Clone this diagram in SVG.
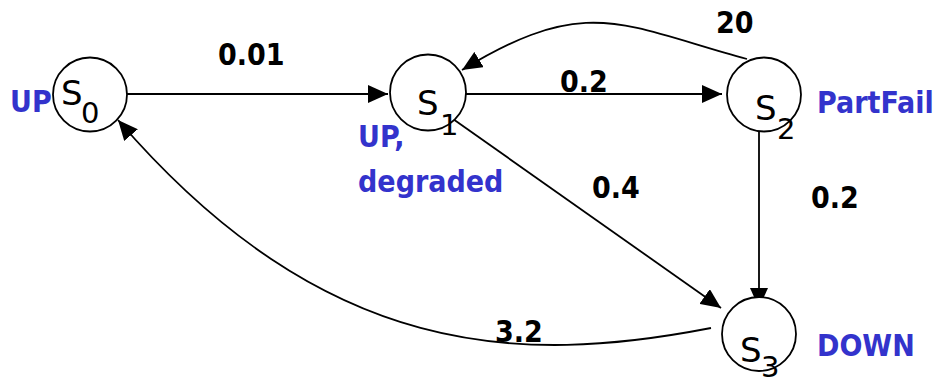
<svg xmlns="http://www.w3.org/2000/svg" width="940" height="382" viewBox="0 0 940 382">
<style>
.st{fill:#fff;stroke:#000;stroke-width:1.8}
.sn{font-family:"DejaVu Sans",Verdana,sans-serif;font-size:34px;fill:#000}
.sb{font-family:"DejaVu Sans",Verdana,sans-serif;font-size:29px;fill:#000}
.lbl{font-family:"DejaVu Sans Condensed","DejaVu Sans",sans-serif;font-size:30px;font-weight:bold;fill:#3333cc}
.rate{font-family:"DejaVu Sans Condensed","DejaVu Sans",sans-serif;font-size:30px;font-weight:bold;fill:#000}
.e{fill:none;stroke:#000;stroke-width:1.8}
</style>
<defs>
<marker id="ah" markerUnits="userSpaceOnUse" markerWidth="20" markerHeight="18" refX="20" refY="9" orient="auto">
<path d="M0,0 L20,9 L0,18 z" fill="#000"/>
</marker>
</defs>
<g id="connectors">
<path class="e" d="M127,94 L388,94" marker-end="url(#ah)"/>
<path class="e" d="M460,94 L722,94" marker-end="url(#ah)"/>
<path class="e" d="M747,59 C622,25 587,-6.5 462,70" marker-end="url(#ah)"/>
<path class="e" d="M453,119 L721,308" marker-end="url(#ah)"/>
<path class="e" d="M759,131 L759,308" marker-end="url(#ah)"/>
<path class="e" d="M711,328 C520,365 325,360 118,120" marker-end="url(#ah)"/>
</g>
<g id="S0">
<circle class="st" cx="90" cy="94.5" r="37"/>
<text class="sn" x="61" y="105">S</text><text class="sb" x="81" y="123">0</text>
<text class="lbl" x="10" y="112">UP</text>
</g>
<g id="S1">
<circle class="st" cx="428" cy="92.5" r="38"/>
<text class="sn" x="417" y="115">S</text><text class="sb" x="440" y="135">1</text>
<text class="lbl" x="358" y="147">UP,</text>
<text class="lbl" x="358" y="192">degraded</text>
</g>
<g id="S2">
<circle class="st" cx="764" cy="94.5" r="37"/>
<text class="sn" x="755" y="120">S</text><text class="sb" x="777" y="139">2</text>
<text class="lbl" x="817" y="113">PartFail</text>
</g>
<g id="S3">
<circle class="st" cx="759" cy="334" r="37"/>
<text class="sn" x="740" y="362">S</text><text class="sb" x="761" y="377">3</text>
<text class="lbl" x="817" y="356">DOWN</text>
</g>
<g id="labels">
<text class="rate" x="218" y="65">0.01</text>
<text class="rate" x="560" y="92">0.2</text>
<text class="rate" x="716" y="33">20</text>
<text class="rate" x="592" y="198">0.4</text>
<text class="rate" x="811" y="208">0.2</text>
<text class="rate" x="495" y="342">3.2</text>
</g>
</svg>
